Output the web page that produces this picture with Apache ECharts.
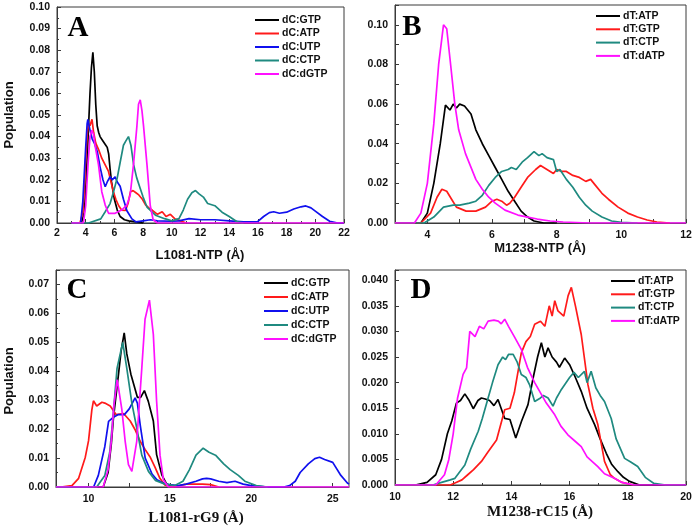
<!DOCTYPE html>
<html><head><meta charset="utf-8">
<script src="https://cdn.jsdelivr.net/npm/echarts@6/dist/echarts.min.js"></script>
<style>html,body{margin:0;padding:0;background:#fff}#c{width:696px;height:529px}</style>
</head><body><div id="c"></div>
<script>
// ---------- Panel A: L1081-NTP ----------
const aNames = ['dC:GTP','dC:ATP','dC:UTP','dC:CTP','dC:dGTP'];
const aGTPx = [3.0,3.7,3.9,4.0,4.1,4.2,4.3,4.4,4.5,4.6,4.7,4.8,4.9,5.0,5.2,5.4,5.5,5.6,5.7,5.8,5.9,6.0,6.2,6.4,6.7,7.0,7.5,8.0];
const aGTPy = [0,0,0.005,0.015,0.03,0.045,0.06,0.072,0.079,0.07,0.055,0.045,0.042,0.040,0.038,0.036,0.035,0.032,0.025,0.019,0.015,0.011,0.006,0.003,0.0015,0.001,0.0005,0];
const aATPx = [3.0,3.6,3.8,3.9,4.0,4.12,4.2,4.3,4.44,4.55,4.7,4.9,5.12,5.35,5.58,5.8,5.93,6.1,6.3,6.5,6.77,6.95,7.12,7.3,7.5,7.7,7.95,8.17,8.4,8.63,9.0,9.33,9.6,9.9,10.2,10.6,11.0];
const aATPy = [0,0,0.005,0.015,0.03,0.042,0.046,0.045,0.048,0.042,0.037,0.034,0.030,0.027,0.024,0.018,0.0145,0.011,0.008,0.006,0.0058,0.009,0.0145,0.015,0.014,0.013,0.011,0.0084,0.007,0.006,0.004,0.0052,0.003,0.004,0.002,0.001,0];
const aUTPx = [3.0,3.65,3.8,4.0,4.1,4.15,4.3,4.45,4.6,4.81,5.0,5.2,5.36,5.5,5.7,5.85,6.05,6.2,6.4,6.63,6.87,7.22,7.5,8.0,8.5,9.0,10.0,10.5,11.2,12.0,13.0,14.0,15.0,15.96,16.4,16.8,17.1,17.5,18.0,18.5,19.0,19.34,19.7,20.0,20.5,21.0,21.56,22.0];
const aUTPy = [0,0,0.01,0.035,0.046,0.048,0.043,0.039,0.037,0.033,0.026,0.02,0.0168,0.019,0.0214,0.02,0.0214,0.019,0.017,0.011,0.0057,0.0019,0.0005,0.001,0.0015,0.001,0.0008,0.001,0.002,0.0015,0.0015,0.001,0.0005,0.0005,0.003,0.0048,0.0052,0.0045,0.005,0.0065,0.0075,0.0079,0.007,0.0055,0.003,0.0008,0,0];
const aCTPx = [3.0,4.2,5.05,5.36,5.7,5.94,6.2,6.4,6.63,6.8,6.98,7.15,7.34,7.55,7.8,8.0,8.27,8.86,9.5,10.0,10.5,10.8,11.1,11.4,11.65,11.9,12.2,12.5,13.0,13.5,14.0,14.57,15.0];
const aCTPy = [0,0,0.0019,0.0052,0.009,0.0145,0.021,0.028,0.036,0.038,0.040,0.036,0.027,0.021,0.016,0.012,0.0074,0.0036,0.002,0.001,0.002,0.006,0.011,0.014,0.015,0.0135,0.012,0.009,0.008,0.005,0.003,0.0005,0];
const aDGTPx = [3.0,3.84,4.0,4.1,4.19,4.3,4.42,4.55,4.65,4.89,5.12,5.36,5.59,6.05,6.5,6.87,7.1,7.33,7.57,7.68,7.8,7.92,8.03,8.27,8.5,8.7,9.0,22.0];
const aDGTPy = [0,0,0.008,0.02,0.03,0.04,0.043,0.041,0.036,0.027,0.0145,0.0083,0.0045,0.0045,0.006,0.0083,0.013,0.027,0.045,0.055,0.057,0.052,0.045,0.027,0.008,0.0015,0,0];

// ---------- Panel B: M1238-NTP ----------
const bNames = ['dT:ATP','dT:GTP','dT:CTP','dT:dATP'];
const bATPx = [3.0,3.8,4.0,4.2,4.4,4.56,4.7,4.8,4.9,5.0,5.15,5.35,5.5,5.7,5.9,6.1,6.3,6.5,6.7,6.9,7.1,7.3,7.6,8.0];
const bATPy = [0,0,0.005,0.02,0.04,0.0595,0.057,0.06,0.058,0.06,0.059,0.055,0.047,0.04,0.034,0.028,0.022,0.016,0.011,0.006,0.003,0.001,0,0];
const bGTPx = [3.0,3.8,4.1,4.3,4.45,4.6,4.75,4.9,5.2,5.5,5.8,6.0,6.15,6.3,6.45,6.55,6.7,6.9,7.1,7.35,7.5,7.7,7.9,8.0,8.15,8.3,8.5,8.7,8.9,9.05,9.2,9.4,9.6,9.9,10.2,10.5,10.8,11.1,11.5];
const bGTPy = [0,0,0.005,0.013,0.017,0.016,0.012,0.008,0.006,0.006,0.008,0.011,0.012,0.011,0.009,0.01,0.013,0.018,0.023,0.027,0.029,0.027,0.025,0.027,0.026,0.026,0.024,0.023,0.021,0.022,0.019,0.015,0.012,0.008,0.005,0.003,0.0015,0.0005,0];
const bCTPx = [3.0,3.9,4.2,4.5,4.8,5.0,5.3,5.5,5.7,5.9,6.1,6.3,6.5,6.6,6.75,6.95,7.1,7.3,7.45,7.55,7.7,7.9,8.0,8.1,8.3,8.5,8.7,8.9,9.1,9.4,9.7,10.0,10.5];
const bCTPy = [0,0,0.003,0.008,0.009,0.009,0.01,0.011,0.014,0.019,0.023,0.026,0.027,0.028,0.027,0.031,0.033,0.036,0.034,0.035,0.033,0.032,0.026,0.027,0.022,0.018,0.013,0.009,0.006,0.003,0.001,0.0003,0];
const bDATPx = [3.0,3.6,3.8,4.0,4.2,4.35,4.5,4.6,4.7,4.85,4.97,5.18,5.5,5.7,5.9,6.1,6.4,6.8,7.1,7.4,7.8,8.2,9.0,12.0];
const bDATPy = [0,0,0.005,0.02,0.05,0.08,0.1,0.098,0.083,0.06,0.047,0.035,0.022,0.017,0.013,0.01,0.0065,0.004,0.003,0.002,0.001,0.0005,0,0];

// ---------- Panel C: L1081-rG9 ----------
const cGTPx = [8.0,10.9,11.2,11.4,11.53,11.84,12.0,12.19,12.35,12.6,12.8,13.0,13.2,13.43,13.67,13.98,14.18,14.5,14.8,15.0,15.3];
const cGTPy = [0,0,0.005,0.015,0.024,0.039,0.047,0.0533,0.046,0.039,0.035,0.031,0.031,0.0333,0.0296,0.0228,0.0112,0.0042,0.001,0.0005,0];
const cATPx = [8.0,8.3,8.98,9.39,9.8,10.0,10.2,10.3,10.5,10.82,11.0,11.33,11.7,12.15,12.56,12.86,13.17,13.47,13.78,14.08,14.39,14.7,15.2,16.0,17.0,17.5,18.0];
const cATPy = [0,0,0.0005,0.003,0.0103,0.016,0.0266,0.0298,0.028,0.0293,0.029,0.028,0.025,0.0254,0.0228,0.0198,0.0158,0.013,0.0104,0.0069,0.0029,0.0006,0,0.001,0.001,0.0008,0];
const cUTPx = [8.0,10.31,10.6,11.0,11.23,11.5,11.8,12.2,12.5,12.86,13.0,13.17,13.48,13.9,14.2,14.7,15.5,16.0,16.6,17.0,17.25,17.5,18.0,18.5,19.0,19.5,20.0,21.0,22.0,22.35,22.7,23.0,23.5,23.9,24.19,24.5,25.0,25.5,25.9,26.0];
const cUTPy = [0,0,0.004,0.014,0.0227,0.024,0.025,0.025,0.027,0.0308,0.029,0.0216,0.010,0.0045,0.0025,0.001,0.0005,0.001,0.002,0.0028,0.003,0.0028,0.002,0.0015,0.002,0.001,0.0005,0,0,0.0005,0.002,0.005,0.008,0.0098,0.0103,0.0095,0.0085,0.004,0.0014,0.001];
const cCTPx = [8.0,10.5,11.0,11.3,11.5,11.75,12.1,12.35,12.66,12.96,13.27,13.68,14.1,14.7,15.3,15.8,16.2,16.6,17.04,17.4,17.8,18.3,18.7,19.2,19.6,20.3,21.0];
const cCTPy = [0,0,0.004,0.012,0.024,0.041,0.050,0.041,0.029,0.0204,0.011,0.0054,0.0023,0.001,0.0005,0.002,0.006,0.011,0.0134,0.012,0.011,0.008,0.006,0.004,0.002,0.0005,0];
const cDGTPx = [8.0,10.9,11.2,11.4,11.55,11.76,12.04,12.25,12.45,12.66,12.96,13.27,13.47,13.74,13.98,14.18,14.39,14.6,14.9,26.0];
const cDGTPy = [0,0,0.006,0.016,0.028,0.0371,0.027,0.0158,0.0077,0.0054,0.0158,0.041,0.058,0.0646,0.0527,0.0297,0.011,0.0025,0,0];

// ---------- Panel D: M1238-rC15 ----------
const dATPx = [10.0,10.7,11.1,11.4,11.6,11.8,11.95,12.11,12.25,12.4,12.55,12.69,12.85,12.97,13.1,13.25,13.4,13.54,13.77,13.95,14.15,14.35,14.57,14.75,14.9,15.03,15.15,15.26,15.4,15.55,15.65,15.83,16.0,16.2,16.4,16.6,16.86,17.05,17.26,17.45,17.66,17.85,18.06,18.4,20.0];
const dATPy = [0,0,0.0005,0.002,0.005,0.01,0.0125,0.016,0.0165,0.0178,0.0165,0.0149,0.0165,0.017,0.0168,0.0165,0.0155,0.0167,0.013,0.0128,0.0092,0.0125,0.0157,0.021,0.025,0.0278,0.025,0.0268,0.025,0.024,0.023,0.0248,0.0235,0.021,0.0183,0.015,0.0118,0.009,0.0062,0.004,0.0026,0.0015,0.0007,0,0];
const dGTPx = [10.0,11.9,12.1,12.3,12.5,12.7,12.97,13.2,13.49,13.77,13.95,14.1,14.34,14.5,14.65,14.8,15.0,15.15,15.3,15.4,15.49,15.6,15.8,15.95,16.06,16.2,16.4,16.63,16.8,16.97,17.2,17.4,17.54,17.8,18.2];
const dGTPy = [0,0,0.0005,0.001,0.002,0.003,0.0046,0.0065,0.0088,0.0147,0.015,0.018,0.0258,0.028,0.029,0.0314,0.032,0.031,0.035,0.033,0.036,0.034,0.033,0.037,0.0386,0.035,0.0294,0.0196,0.015,0.0118,0.0046,0.002,0.0013,0.0005,0];
const dCTPx = [10.0,11.3,11.6,11.9,12.06,12.4,12.6,12.86,13.0,13.2,13.35,13.54,13.7,13.8,13.9,14.06,14.2,14.34,14.5,14.63,14.8,15.0,15.1,15.26,15.43,15.55,15.7,15.83,16.0,16.15,16.3,16.51,16.6,16.74,16.9,17.05,17.2,17.43,17.6,17.89,18.1,18.34,18.6,18.9,19.3,20.0];
const dCTPy = [0,0,0.0005,0.001,0.0013,0.0039,0.007,0.0105,0.013,0.017,0.02,0.0235,0.025,0.0245,0.0255,0.0255,0.024,0.0216,0.021,0.0195,0.0163,0.017,0.0175,0.017,0.0154,0.017,0.0185,0.0196,0.021,0.022,0.021,0.0222,0.02,0.0222,0.019,0.0175,0.0163,0.013,0.009,0.0052,0.0045,0.0036,0.0015,0.0003,0,0];
const dDATPx = [10.0,11.4,11.7,11.85,12.0,12.15,12.34,12.46,12.57,12.75,12.9,13.05,13.2,13.4,13.55,13.65,13.77,13.9,14.1,14.34,14.55,14.8,15.0,15.2,15.49,15.7,15.94,16.2,16.4,16.6,16.97,17.2,17.54,17.8,18.2,20.0];
const dDATPy = [0,0,0.002,0.005,0.01,0.017,0.0216,0.0229,0.030,0.029,0.031,0.0305,0.032,0.0322,0.032,0.0315,0.0324,0.031,0.029,0.0265,0.023,0.02,0.018,0.016,0.0137,0.0115,0.0098,0.0085,0.0075,0.0055,0.0036,0.0022,0.0013,0.0005,0,0];

// ---------- tick labels ----------
const aXTicks = [2,4,6,8,10,12,14,16,18,20,22];
const bXTicks = [4,6,8,10,12];
const cXTicks = [10,15,20,25];
const cXMinor = [10,12.5,15,17.5,20,22.5,25];
const dXTicks = [10,12,14,16,18,20];
const aYTicks = [0,0.01,0.02,0.03,0.04,0.05,0.06,0.07,0.08,0.09,0.10];
const bYTicks = [0,0.02,0.04,0.06,0.08,0.10];
const cYTicks = [0,0.01,0.02,0.03,0.04,0.05,0.06,0.07];
const dYTicks = [0,0.005,0.010,0.015,0.020,0.025,0.030,0.035,0.040];

const titles = ['L1081-NTP (Å)','M1238-NTP (Å)','L1081-rG9 (Å)','M1238-rC15 (Å)'];
const letters = ['A','B','C','D'];
const colors = {GTP:'#000000', ATP:'#ff1a1a', UTP:'#1010ee', CTP:'#1f8a80', DG:'#ff10ff'};

const SANS = '"Liberation Sans", Arial, sans-serif';
const SERIF = '"Liberation Serif", "Times New Roman", serif';
const FRAME = '#3a3a3a';

const grids = [
  {left:57, top:7, width:287, height:216},
  {left:395, top:5, width:291, height:218},
  {left:56, top:270, width:293, height:217},
  {left:395, top:270, width:291, height:215}
];

function pair(xs, ys){ return xs.map((x,i)=>[x, ys[i]]); }
function ser(name, xs, ys, color, gi){
  return {type:'line', name, xAxisIndex:gi, yAxisIndex:gi, data:pair(xs,ys), symbol:'none',
    lineStyle:{color, width:1.7}, itemStyle:{color}, silent:true, animation:false, clip:true};
}
function labelsFmt(list, dec){
  return v => list.some(t=>Math.abs(t-v)<1e-9) ? v.toFixed(dec) : '';
}
const tickLabel = {color:'#111', fontFamily:SANS, fontWeight:'bold', fontSize:10.5};

function xAxis(gi, min, max, extra){
  return Object.assign({type:'value', gridIndex:gi, min, max,
    axisLine:{lineStyle:{color:FRAME, width:1}},
    axisTick:{inside:true, length:4, lineStyle:{color:FRAME}},
    minorTick:{show:false},
    splitLine:{show:false},
    axisLabel:Object.assign({margin:5}, tickLabel)}, extra);
}
function yAxis(gi, min, max, extra){
  return Object.assign({type:'value', gridIndex:gi, min, max,
    axisLine:{show:true, lineStyle:{color:FRAME, width:1}},
    axisTick:{show:true, inside:true, length:4, lineStyle:{color:FRAME}},
    splitLine:{show:false},
    axisLabel:Object.assign({margin:6}, tickLabel)}, extra);
}

const xAxes = [
  xAxis(0, 2, 22, {interval:2, minorTick:{show:true, splitNumber:2, length:2, lineStyle:{color:FRAME}},
    axisLabel:Object.assign({margin:5, customValues:aXTicks}, tickLabel)}),
  xAxis(1, 3, 12, {interval:1, axisLabel:Object.assign({margin:7, formatter:v=>bXTicks.includes(v)?String(v):''}, tickLabel)}),
  xAxis(2, 8, 26, {axisTick:{inside:true, length:4, lineStyle:{color:FRAME}, customValues:cXMinor},
    axisLabel:Object.assign({margin:7, customValues:cXTicks}, tickLabel)}),
  xAxis(3, 10, 20, {interval:2, minorTick:{show:true, splitNumber:2, length:2, lineStyle:{color:FRAME}},
    axisLabel:Object.assign({margin:7, customValues:dXTicks}, tickLabel)})
];
const yAxes = [
  yAxis(0, 0, 0.10, {interval:0.01, minorTick:{show:true, splitNumber:2, length:2, lineStyle:{color:FRAME}},
    axisLabel:Object.assign({margin:7, formatter:labelsFmt(aYTicks,2)}, tickLabel)}),
  yAxis(1, 0, 0.11, {interval:0.01, axisLabel:Object.assign({margin:7, formatter:labelsFmt(bYTicks,2)}, tickLabel)}),
  yAxis(2, 0, 0.075, {interval:0.01, minorTick:{show:true, splitNumber:2, length:2, lineStyle:{color:FRAME}},
    axisLabel:Object.assign({margin:7, formatter:labelsFmt(cYTicks,2)}, tickLabel)}),
  yAxis(3, 0, 0.042, {interval:0.005, axisLabel:Object.assign({margin:7, formatter:labelsFmt(dYTicks,3)}, tickLabel)})
];

const series = [
  ser(aNames[0], aGTPx, aGTPy, colors.GTP, 0),
  ser(aNames[1], aATPx, aATPy, colors.ATP, 0),
  ser(aNames[2], aUTPx, aUTPy, colors.UTP, 0),
  ser(aNames[3], aCTPx, aCTPy, colors.CTP, 0),
  ser(aNames[4], aDGTPx, aDGTPy, colors.DG, 0),
  ser(bNames[0], bATPx, bATPy, colors.GTP, 1),
  ser(bNames[1], bGTPx, bGTPy, colors.ATP, 1),
  ser(bNames[2], bCTPx, bCTPy, colors.CTP, 1),
  ser(bNames[3], bDATPx, bDATPy, colors.DG, 1),
  ser(aNames[0], cGTPx, cGTPy, colors.GTP, 2),
  ser(aNames[1], cATPx, cATPy, colors.ATP, 2),
  ser(aNames[2], cUTPx, cUTPy, colors.UTP, 2),
  ser(aNames[3], cCTPx, cCTPy, colors.CTP, 2),
  ser(aNames[4], cDGTPx, cDGTPy, colors.DG, 2),
  ser(bNames[0], dATPx, dATPy, colors.GTP, 3),
  ser(bNames[1], dGTPx, dGTPy, colors.ATP, 3),
  ser(bNames[2], dCTPx, dCTPy, colors.CTP, 3),
  ser(bNames[3], dDATPx, dDATPy, colors.DG, 3)
];

function legend(names, left, top, gap){
  return {data:names, orient:'vertical', left, top, padding:0, itemGap:gap,
    icon:'rect', itemWidth:24, itemHeight:2, selectedMode:false,
    textStyle:{color:'#111', fontFamily:SANS, fontWeight:'bold', fontSize:10.5, lineHeight:12, padding:[0,0,0,-2]}};
}

const graphics = [];
const letterPos = [[78,29],[412,28],[77,291],[421,291]];
letters.forEach((t,i)=>graphics.push({type:'text', x:letterPos[i][0], y:letterPos[i][1],
  style:{text:t, fill:'#000', font:'bold 29px '+SERIF, textAlign:'center', textVerticalAlign:'middle'}}));
const titlePos = [[200,255,SANS,13],[540,248,SANS,13],[196,518,SERIF,15],[540,512,SERIF,15]];
titles.forEach((t,i)=>graphics.push({type:'text', x:titlePos[i][0], y:titlePos[i][1],
  style:{text:t, fill:'#111', font:'bold '+titlePos[i][3]+'px '+titlePos[i][2], textAlign:'center', textVerticalAlign:'middle'}}));
[[9,115],[9,381]].forEach(p=>graphics.push({type:'text', x:p[0], y:p[1], rotation:Math.PI/2,
  style:{text:'Population', fill:'#111', font:'bold 13px '+SANS, textAlign:'center', textVerticalAlign:'middle'}}));

const chart = echarts.init(document.getElementById('c'), null, {renderer:'canvas'});
chart.setOption({
  animation:false,
  backgroundColor:'#fff',
  grid: grids.map(g=>Object.assign({show:true, borderColor:FRAME, borderWidth:1, containLabel:false}, g)),
  xAxis: xAxes,
  yAxis: yAxes,
  legend: [legend(aNames,255,14,1.5), legend(bNames,596,10,1.3), legend(aNames,264,277,2), legend(bNames,611,275,1.3)],
  graphic: graphics,
  series
});
</script></body></html>
